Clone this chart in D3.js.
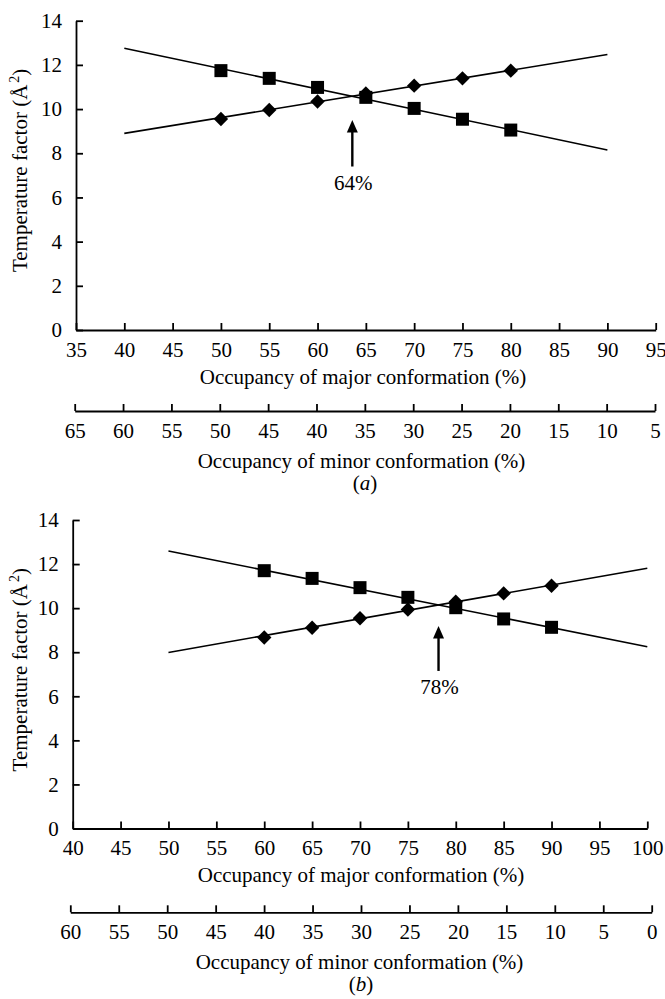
<!DOCTYPE html>
<html>
<head>
<meta charset="utf-8">
<script src="https://cdn.jsdelivr.net/npm/d3@7"></script>
<style>
	body { margin: 0; background: #fff; }
	.axis path, .axis line { stroke: #000; stroke-width: 1.8; }
	.fit { fill: none; stroke: #000; stroke-width: 1.6; }
</style>
</head>
<body>
<div id="chart"></div>
<script>
// shared
let yTicks			= [0, 2, 4, 6, 8, 10, 12, 14];

// panel (a)
let majorTicksA		= [35, 40, 45, 50, 55, 60, 65, 70, 75, 80, 85, 90, 95];
let minorTicksA		= [65, 60, 55, 50, 45, 40, 35, 30, 25, 20, 15, 10, 5];
let occupancyA		= [50, 55, 60, 65, 70, 75, 80];
let squareA			= [11.74, 11.39, 10.98, 10.53, 10.03, 9.54, 9.05];
let diamondA		= [9.55, 9.96, 10.34, 10.71, 11.06, 11.39, 11.74];
let fitSquareA		= [[40, 12.75], [90, 8.15]];
let fitDiamondA		= [[40, 8.90], [90, 12.47]];
let arrowA			= [63.6, 9.5, 7.4, 6.34];	// x, tip, tail, label baseline
let arrowLabelA		= "64%";

// panel (b)
let majorTicksB		= [40, 45, 50, 55, 60, 65, 70, 75, 80, 85, 90, 95, 100];
let minorTicksB		= [60, 55, 50, 45, 40, 35, 30, 25, 20, 15, 10, 5, 0];
let occupancyB		= [60, 65, 70, 75, 80, 85, 90];
let squareB			= [11.70, 11.35, 10.93, 10.49, 10.02, 9.51, 9.13];
let diamondB		= [8.67, 9.11, 9.54, 9.94, 10.29, 10.67, 11.02];
let fitSquareB		= [[50, 12.59], [100, 8.25]];
let fitDiamondB		= [[50, 7.99], [100, 11.81]];
let arrowB			= [78.2, 9.19, 7.15, 6.10];
let arrowLabelB		= "78%";

let FONT = "'Liberation Serif', 'Times New Roman', Times, serif";

let svg = d3.select("#chart").append("svg")
	.attr("width", 665)
	.attr("height", 999)
	.attr("font-family", FONT)
	.attr("font-size", 21);

svg.append("rect").attr("width", 665).attr("height", 999).attr("fill", "#fff");

function drawPanel(p) {
	let x		= d3.scaleLinear().domain(d3.extent(p.majorTicks)).range([p.left, p.right]);
	let xMinor	= d3.scaleLinear().domain([p.minorTicks[0], p.minorTicks[p.minorTicks.length - 1]]).range([p.minorLeft, p.minorRight]);
	let y		= d3.scaleLinear().domain([0, 14]).range([p.bottom, p.top]);

	let g = svg.append("g");

	// axes
	g.append("g")
		.attr("class", "axis")
		.attr("transform", "translate(0," + p.bottom + ")")
		.call(d3.axisBottom(x).tickValues(p.majorTicks).tickSizeInner(-7).tickSizeOuter(0).tickPadding(12))
		.attr("font-family", FONT).attr("font-size", 21);

	g.append("g")
		.attr("class", "axis")
		.attr("transform", "translate(0," + p.minorY + ")")
		.call(d3.axisBottom(xMinor).tickValues(p.minorTicks).tickSizeInner(-7).tickSizeOuter(0).tickPadding(12))
		.attr("font-family", FONT).attr("font-size", 21);

	g.append("g")
		.attr("class", "axis")
		.attr("transform", "translate(" + p.left + ",0)")
		.call(d3.axisLeft(y).tickValues(yTicks).tickSizeInner(-7).tickSizeOuter(0).tickPadding(14))
		.attr("font-family", FONT).attr("font-size", 21);

	// titles
	g.append("text")
		.attr("x", p.titleX)
		.attr("y", p.bottom + 53.5)
		.attr("text-anchor", "middle")
		.text("Occupancy of major conformation (%)");

	g.append("text")
		.attr("x", p.titleX - 1.5)
		.attr("y", p.minorY + 57)
		.attr("text-anchor", "middle")
		.text("Occupancy of minor conformation (%)");

	// y title: its closing bracket sits just under the top of the axis
	let yt = g.append("text")
		.attr("transform", "translate(27," + (p.top + 48) + ") rotate(-90)")
		.attr("text-anchor", "end");
	yt.append("tspan").text("Temperature factor (\u00C5");
	yt.append("tspan").attr("dx", 2).attr("dy", -8).attr("font-size", 14).text("2");
	yt.append("tspan").attr("dy", 8).text(")");

	let cap = g.append("text")
		.attr("x", p.captionX)
		.attr("y", p.captionY)
		.attr("text-anchor", "middle");
	cap.append("tspan").text("(");
	cap.append("tspan").attr("font-style", "italic").text(p.caption);
	cap.append("tspan").text(")");

	// fitted lines
	let line = d3.line().x((d) => x(d[0])).y((d) => y(d[1]));
	g.append("path").attr("class", "fit").attr("d", line(p.fitSquare));
	g.append("path").attr("class", "fit").attr("d", line(p.fitDiamond));

	// markers
	let square	= d3.symbol(d3.symbolSquare, 169);
	let diamond	= d3.symbol(d3.symbolSquare, 104);

	g.append("g").selectAll("path")
		.data(p.occupancy)
		.enter().append("path")
			.attr("d", square)
			.attr("transform", (o, i) => "translate(" + x(o) + "," + y(p.square[i]) + ")")
			.attr("fill", "#000");

	g.append("g").selectAll("path")
		.data(p.occupancy)
		.enter().append("path")
			.attr("d", diamond)
			.attr("transform", (o, i) => "translate(" + x(o) + "," + y(p.diamond[i]) + ") rotate(45)")
			.attr("fill", "#000");

	// arrow marking the crossover
	let ax		= x(p.arrow[0]);
	let tip		= y(p.arrow[1]);
	g.append("line")
		.attr("x1", ax).attr("x2", ax)
		.attr("y1", tip + 10).attr("y2", y(p.arrow[2]))
		.attr("stroke", "#000").attr("stroke-width", 2.4);
	g.append("path")
		.attr("d", "M" + ax + "," + tip + "L" + (ax + 5.5) + "," + (tip + 12.5) + "L" + (ax - 5.5) + "," + (tip + 12.5) + "Z")
		.attr("fill", "#000");
	g.append("text")
		.attr("x", ax + 1)
		.attr("y", y(p.arrow[3]))
		.attr("text-anchor", "middle")
		.text(p.arrowLabel);
}

drawPanel({
	majorTicks: majorTicksA, minorTicks: minorTicksA,
	occupancy: occupancyA, square: squareA, diamond: diamondA,
	fitSquare: fitSquareA, fitDiamond: fitDiamondA,
	arrow: arrowA, arrowLabel: arrowLabelA, caption: "a",
	left: 76, right: 655.7, top: 20.7, bottom: 330,
	minorLeft: 74.7, minorRight: 655, minorY: 411,
	titleX: 363, captionX: 365, captionY: 490
});

drawPanel({
	majorTicks: majorTicksB, minorTicks: minorTicksB,
	occupancy: occupancyB, square: squareB, diamond: diamondB,
	fitSquare: fitSquareB, fitDiamond: fitDiamondB,
	arrow: arrowB, arrowLabel: arrowLabelB, caption: "b",
	left: 72.7, right: 647.3, top: 520, bottom: 828.5,
	minorLeft: 70.3, minorRight: 651.7, minorY: 912.3,
	titleX: 361, captionX: 361, captionY: 991
});
</script>
</body>
</html>
